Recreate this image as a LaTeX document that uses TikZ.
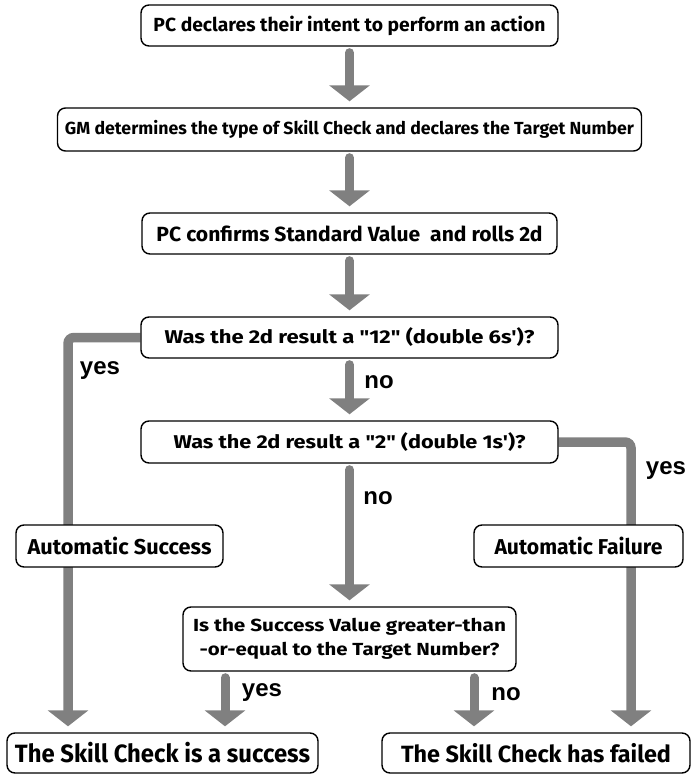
\documentclass[tikz,border=0pt]{standalone}
\usepackage{graphicx}
\usepackage{fontspec}
\setmainfont{Fira Sans}
\newfontfamily\boxfont{Fira Sans}[Ligatures=TeXOff]
\newfontfamily\labelfont{Liberation Sans}
\usetikzlibrary{arrows.meta,backgrounds}

\definecolor{flowgray}{RGB}{128,128,128}

% squeeze or stretch a line of text horizontally to a given width (in pt)
\newsavebox\fitbox
\newcommand\fitw[2]{\sbox\fitbox{#2}\pgfmathsetmacro\fitfac{#1/\the\wd\fitbox}\scalebox{\fitfac}[1]{\usebox\fitbox}}

\tikzset{
  box/.style={draw=black, line width=1.4pt, rounded corners=8pt, fill=white,
    inner sep=0pt, align=center},
  bsize/.style={font=\boxfont\bfseries\fontsize{#1}{24}\selectfont},
  arr/.style={draw=flowgray, line width=9pt, line cap=round,
    -{Triangle[width=40pt,length=16pt]}, shorten <=6pt, shorten >=6pt},
  branch/.style={draw=flowgray, line width=9.5pt, rounded corners=6pt,
    -{Triangle[width=40pt,length=16pt]}, shorten >=6pt},
  lbl/.style={font=\labelfont\bfseries\fontsize{24}{24}\selectfont, inner sep=0pt},
}

\begin{document}
\begin{tikzpicture}[x=1pt, y=-1pt]
\useasboundingbox (0,0) rectangle (692,774);

% column positions of the side and bottom arrows
\coordinate (colL) at (68,0);
\coordinate (colY) at (225,0);
\coordinate (colN) at (474,0);
\coordinate (colR) at (631,0);

% steps
\node[box, bsize=19, minimum width=417pt, minimum height=41pt] (b1) at (349.5,25.5)
  {\fitw{392}{PC declares their intent to perform an action}};
\node[box, bsize=17.5, minimum width=584pt, minimum height=43pt] (b2) at (349.5,129.5)
  {\fitw{569}{GM determines the type of Skill Check and declares the Target Number}};
\node[box, bsize=20.5, minimum width=415pt, minimum height=41pt] (b3) at (349.5,233.5)
  {\fitw{386}{PC confirms Standard Value\ \ and rolls 2d}};
\node[box, bsize=18.5, minimum width=417pt, minimum height=41pt] (b4) at (349.5,337.5)
  {\fitw{370}{Was the 2d result a "12" (double 6s')?}};
\node[box, bsize=18.5, minimum width=417pt, minimum height=42pt] (b5) at (349.5,442)
  {\fitw{352}{Was the 2d result a "2" (double 1s')?}};
\node[box, bsize=17.5, minimum width=333pt, minimum height=64pt] (q) at (349.5,639)
  {\fitw{313}{Is the Success Value greater-than}\\[0pt]\fitw{300}{-or-equal to the Target Number?}};

% outcomes
\node[box, bsize=21.5, minimum width=207pt, minimum height=42pt] (autoS) at (119.5,546)
  {\fitw{184}{Automatic Success}};
\node[box, bsize=21.5, minimum width=209pt, minimum height=42pt] (autoF) at (578.5,546)
  {\fitw{168}{Automatic Failure}};
\node[box, bsize=25, minimum width=311pt, minimum height=40pt] (succ) at (162.5,753)
  {\fitw{295}{The Skill Check is a success}};
\node[box, bsize=23.5, minimum width=308pt, minimum height=40pt] (fail) at (536,753)
  {\fitw{270}{The Skill Check has failed}};

% connectors, behind the boxes
\begin{scope}[on background layer]
  \draw[arr] (b1.south) -- (b2.north);
  \draw[arr] (b2.south) -- (b3.north);
  \draw[arr] (b3.south) -- (b4.north);
  \draw[arr] (b4.south) -- (b5.north);
  \draw[arr] (b5.south) -- (q.north);
  \draw[branch] (b4.west) -| (succ.north -| colL);
  \draw[branch] (b5.east) -| (fail.north -| colR);
  \draw[arr] (q.south -| colY) -- (succ.north -| colY);
  \draw[arr] (q.south -| colN) -- (fail.north -| colN);
\end{scope}

% branch labels
\node[lbl] (yesL) at (100,371) {yes};
\node[lbl] (noA) at (379,382) {no};
\node[lbl] (noB) at (378,498) {no};
\node[lbl] (yesR) at (666,471) {yes};
\node[lbl] (yesB) at (262,693) {yes};
\node[lbl] (noC) at (506,694) {no};
\end{tikzpicture}
\end{document}
